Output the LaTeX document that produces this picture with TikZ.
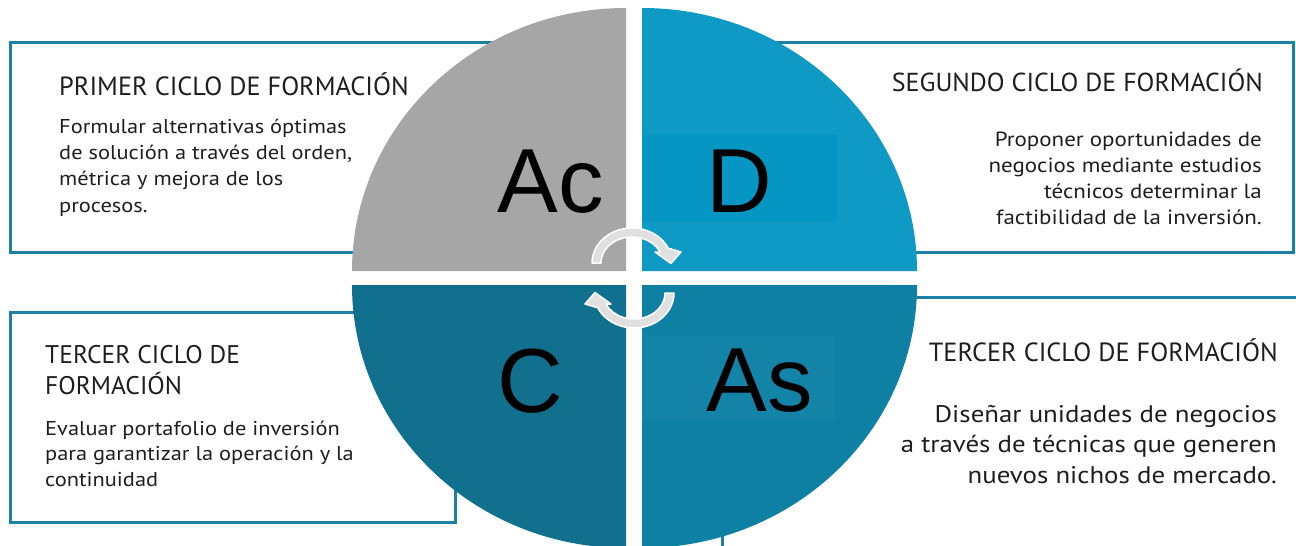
\documentclass[tikz,border=0pt]{standalone}
\usepackage{fontspec}
\setmainfont{PT Sans}
\newfontfamily\bodyfont{PT Sans}[FakeStretch=1.12]
\newfontfamily\bigfont{Liberation Sans}
\usepackage{xcolor}
\definecolor{boxline}{HTML}{1B82A5}
\definecolor{txt}{HTML}{1E1E1E}
\definecolor{qgray}{HTML}{A6A6A6}
\definecolor{qblue}{HTML}{0F99C5}
\definecolor{qblueIn}{HTML}{0596C3}
\definecolor{qdark}{HTML}{12708F}
\definecolor{qteal}{HTML}{0E80A4}
\definecolor{qtealIn}{HTML}{1383A8}
\definecolor{arrowgray}{HTML}{E0E0E1}

\tikzset{
  frame/.style={draw=boxline, line width=3},
  title/.style={text=txt, inner sep=0},
  body/.style={text=txt, inner sep=0},
  letter/.style={font=\bigfont\fontsize{91}{91}\selectfont, text=black, inner sep=0},
  turn/.style={fill=arrowgray, draw=white, line width=1.5, line join=round}
}

\begin{document}
\begin{tikzpicture}[x=1pt, y=-1pt]
  \useasboundingbox (0,0) rectangle (1296,546);
  \clip (0,0) rectangle (1296,546);

  % frames behind the circle
  \draw[frame] (10,42) rectangle (600,252);
  \draw[frame] (700,42) rectangle (1293,252);
  \draw[frame] (10,312) rectangle (455,522);
  \draw[frame] (722,297) rectangle (1320,580);

  % four quarters
  \fill[qgray] (626,271) -- (352,271) arc[start angle=180, end angle=270, x radius=274, y radius=263] -- cycle;
  \fill[qblue] (642,271) -- (642,8) arc[start angle=270, end angle=360, x radius=275, y radius=263] -- cycle;
  \fill[qdark] (626,285) -- (352,285) arc[start angle=180, end angle=90, x radius=274, y radius=263] -- cycle;
  \fill[qteal] (642,285) -- (917,285) arc[start angle=0, end angle=90, x radius=275, y radius=263] -- cycle;
  \fill[qblueIn] (642,135) rectangle (837,222);
  \fill[qtealIn] (642,335) rectangle (835,420);

  \node[letter, anchor=base] (ac) at (551,212) {Ac};
  \node[letter, anchor=base] (d) at (739,212) {D};
  \node[letter, anchor=base] (c) at (530,412) {C};
  \node[letter, anchor=base] (as) at (760,411) {As};

  % turning arrows
  \path[turn] (601,263) -- (592,263) arc[start angle=180, end angle=335, x radius=40, y radius=35]
    -- (681,252) -- (671,263.5) -- (655,252) -- (660.1,252)
    arc[start angle=335, end angle=180, x radius=31, y radius=26] -- cycle;
  \begin{scope}[rotate around={180:(633,278)}]
  \path[turn] (601,263) -- (592,263) arc[start angle=180, end angle=335, x radius=40, y radius=35]
    -- (681,252) -- (671,263.5) -- (655,252) -- (660.1,252)
    arc[start angle=335, end angle=180, x radius=31, y radius=26] -- cycle;
  \end{scope}

  % texts (base = last line)
  \node[title, font=\fontsize{26.3}{31}\selectfont, anchor=base west] (t1) at (59,95) {PRIMER CICLO DE FORMACIÓN};
  \node[body, font=\bodyfont\fontsize{20}{26.3}\selectfont, anchor=base west, align=left] (b1) at (59,212) {Formular alternativas óptimas\\de solución a través del orden,\\métrica y mejora de los\\procesos.};

  \node[title, font=\fontsize{26}{30}\selectfont, anchor=base east] (t2) at (1263,91) {SEGUNDO CICLO DE FORMACIÓN};
  \node[body, font=\bodyfont\fontsize{20.5}{25.7}\selectfont, anchor=base east, align=right] (b2) at (1262,224) {Proponer oportunidades de\\negocios mediante estudios\\técnicos determinar la\\factibilidad de la inversión.};

  \node[title, font=\fontsize{25.5}{31}\selectfont, anchor=base west, align=left] (t3) at (45,394) {TERCER CICLO DE\\FORMACIÓN};
  \node[body, font=\bodyfont\fontsize{20}{25.5}\selectfont, anchor=base west, align=left] (b3) at (45,486) {Evaluar portafolio de inversión\\para garantizar la operación y la\\continuidad};

  \node[title, font=\fontsize{26.3}{30}\selectfont, anchor=base east] (t4) at (1278,361) {TERCER CICLO DE FORMACIÓN};
  \node[body, font=\bodyfont\fontsize{24}{30.5}\selectfont, anchor=base east, align=right] (b4) at (1277,483) {Diseñar unidades de negocios\\a través de técnicas que generen\\nuevos nichos de mercado.};
\end{tikzpicture}
\end{document}
